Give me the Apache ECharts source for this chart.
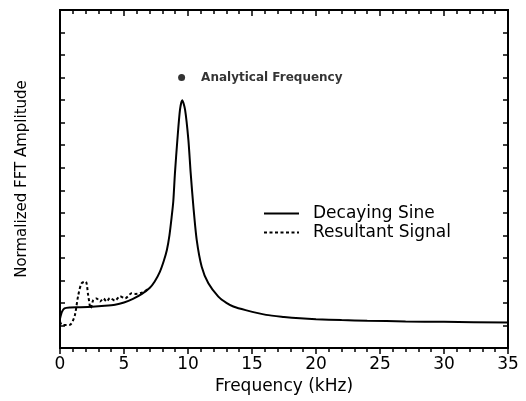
<!DOCTYPE html>
<html>
<head>
<meta charset="utf-8">
<script src="https://cdn.jsdelivr.net/npm/echarts@6/dist/echarts.min.js"></script>
<style>html,body{margin:0;padding:0;background:#fff;}#c{width:526px;height:401px;}</style>
</head>
<body>
<div id="c"></div>
<script>
// Decaying Sine (solid)
const sineFreq = [0, 0.15, 0.35, 0.8, 1.5, 2.5, 3.5, 4.3, 5, 5.7, 6.4, 7, 7.4, 7.8, 8.1, 8.35, 8.55, 8.72, 8.85, 8.98, 9.17, 9.375, 9.55, 9.77, 10.03, 10.21, 10.42, 10.68, 11.07, 11.59, 12.37, 13, 13.54, 14.5, 16.1, 17.5, 18.75, 20, 22, 24, 27, 30, 35];
const sineAmp  = [1.3, 1.6, 1.76, 1.8, 1.81, 1.83, 1.87, 1.92, 2.02, 2.18, 2.4, 2.66, 2.95, 3.38, 3.85, 4.35, 5.0, 5.8, 6.5, 7.76, 9.24, 10.58, 11.0, 10.58, 9.24, 7.76, 6.28, 4.8, 3.61, 2.87, 2.28, 2.0, 1.84, 1.68, 1.47, 1.38, 1.32, 1.28, 1.24, 1.21, 1.18, 1.16, 1.13];
// Resultant Signal (dashed)
const resFreq = [0, 0.13, 0.4, 0.78, 1.0, 1.17, 1.43, 1.69, 2.0, 2.2, 2.4, 2.6, 2.86, 3.12, 3.39, 3.65, 3.9, 4.3, 4.69, 5.08, 5.6, 5.9, 6.4, 7];
const resAmp  = [1.17, 1.03, 1.02, 1.03, 1.2, 1.47, 2.35, 2.87, 2.95, 2.35, 1.76, 2.13, 2.2, 2.06, 2.2, 2.06, 2.22, 2.1, 2.3, 2.2, 2.43, 2.4, 2.46, 2.66];
// Analytical frequency marker
const analyticalFreq = [9.5];
const analyticalAmp = [12.0];
const xTickLabels = ['0', '5', '10', '15', '20', '25', '30', '35'];

const zip = (a, b) => a.map((v, i) => [v, b[i]]);
const FONT = 'DejaVu Sans';

const chart = echarts.init(document.getElementById('c'), null, {renderer: 'canvas'});
const xBottom = {
  type: 'value', min: 0, max: 35, interval: 5, position: 'bottom',
  axisLine: {show: true, lineStyle: {color: '#000', width: 2}},
  axisTick: {show: true, inside: false, length: 6, lineStyle: {color: '#000', width: 1.5}},
  minorTick: {show: true, splitNumber: 5, length: 4, lineStyle: {color: '#000', width: 1.5}},
  splitLine: {show: false}, minorSplitLine: {show: false},
  axisLabel: {show: true, margin: 8, fontFamily: FONT, fontSize: 17, color: '#000',
    formatter: v => xTickLabels[Math.round(v / 5)] || ''},
  name: 'Frequency (kHz)', nameLocation: 'middle', nameGap: 30,
  nameTextStyle: {fontFamily: FONT, fontSize: 17, color: '#000'}
};
const xTop = {
  type: 'value', min: 0, max: 35, interval: 5, position: 'top',
  axisLine: {show: true, onZero: false, lineStyle: {color: '#000', width: 2}},
  axisTick: {show: true, inside: true, length: 6, lineStyle: {color: '#000', width: 1.5}},
  minorTick: {show: true, splitNumber: 5, length: 4, lineStyle: {color: '#000', width: 1.5}},
  splitLine: {show: false}, minorSplitLine: {show: false},
  axisLabel: {show: false}
};
function yAxisCfg(pos) {
  return {
    type: 'value', min: 0, max: 15, interval: 1, position: pos,
    axisLine: {show: true, onZero: false, lineStyle: {color: '#000', width: 2}},
    axisTick: {show: true, inside: true, length: 5, lineStyle: {color: '#000', width: 1.5}},
    axisLabel: {show: false},
    splitLine: {show: false}
  };
}
const yLeft = yAxisCfg('left');
yLeft.name = 'Normalized FFT Amplitude';
yLeft.nameLocation = 'middle';
yLeft.nameGap = 30;
yLeft.nameRotate = 90;
yLeft.nameTextStyle = {fontFamily: FONT, fontSize: 15, color: '#000'};

chart.setOption({
  animation: false,
  backgroundColor: '#fff',
  grid: {left: 60, right: 18, top: 10, bottom: 53, show: true, borderColor: '#000', borderWidth: 2, backgroundColor: 'transparent'},
  xAxis: [xBottom, xTop],
  yAxis: [yLeft, yAxisCfg('right')],
  legend: {
    orient: 'vertical', left: 258, top: 200,
    data: ['Decaying Sine', 'Resultant Signal'],
    itemStyle: {opacity: 0},
    itemWidth: 35, itemHeight: 12, itemGap: 2,
    textStyle: {fontFamily: FONT, fontSize: 17, lineHeight: 17, color: '#000', padding: [0, 0, 0, 9]}
  },
  series: [
    {
      name: 'Resultant Signal', type: 'line', data: zip(resFreq, resAmp),
      xAxisIndex: 0, yAxisIndex: 0, symbol: 'none', smooth: 0.3,
      lineStyle: {color: '#000', width: 2, type: [3, 2.5]}, itemStyle: {color: '#000'}
    },
    {
      name: 'Decaying Sine', type: 'line', data: zip(sineFreq, sineAmp),
      xAxisIndex: 0, yAxisIndex: 0, symbol: 'none', smooth: 0.25,
      lineStyle: {color: '#000', width: 2}, itemStyle: {color: '#000'}
    },
    {
      name: 'Analytical Frequency', type: 'scatter', data: zip(analyticalFreq, analyticalAmp),
      xAxisIndex: 1, yAxisIndex: 1, symbol: 'circle', symbolSize: 7,
      itemStyle: {color: '#000'},
      label: {show: true, position: 'right', distance: 16, formatter: 'Analytical Frequency',
        fontFamily: FONT, fontSize: 12, fontWeight: 'bold', color: '#000'}
    }
  ]
});
</script>
</body>
</html>
